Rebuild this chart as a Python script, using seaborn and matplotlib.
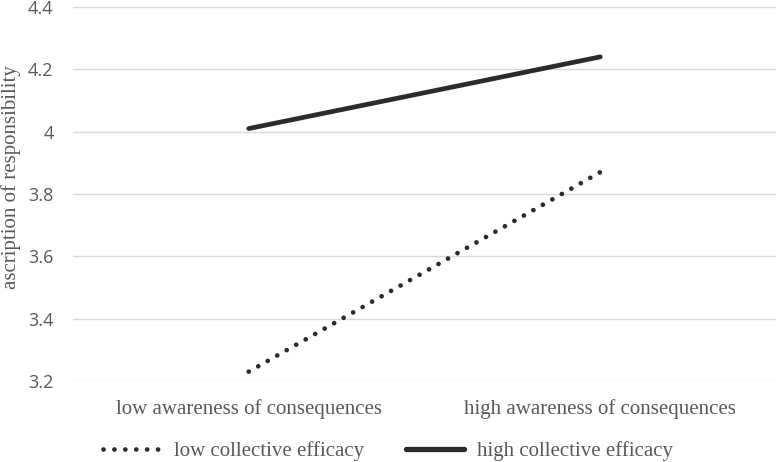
import matplotlib
matplotlib.use("Agg")
import matplotlib.pyplot as plt
import seaborn as sns
import pandas as pd
from matplotlib.lines import Line2D

categories = ["low awareness of consequences", "high awareness of consequences"]
series_names = ["low collective efficacy", "high collective efficacy"]
low_efficacy = [3.23, 3.87]
high_efficacy = [4.01, 4.24]
yticks = [3.2, 3.4, 3.6, 3.8, 4.0, 4.2, 4.4]
ytick_labels = ["3.2", "3.4", "3.6", "3.8", "4", "4.2", "4.4"]

df = pd.DataFrame({
    "x": categories * 2,
    "y": low_efficacy + high_efficacy,
    "series": [series_names[0]] * 2 + [series_names[1]] * 2,
})

sns.set_theme(style="white")
plt.rcParams['font.family'] = ['Liberation Serif', 'DejaVu Sans']

fig = plt.figure(figsize=(7.76, 4.62), dpi=100)
ax = fig.add_axes([73/776, 1 - 381/462, 1 - 73/776, (381 - 7)/462])

line_color = "#2b2b2b"
dot_dash = (0.01, 2.3)
sns.lineplot(data=df, x="x", y="y", hue="series", style="series",
             palette={series_names[0]: line_color, series_names[1]: line_color},
             dashes={series_names[0]: dot_dash, series_names[1]: ""},
             linewidth=3.4, ax=ax, legend=False, sort=False)

for ln in ax.lines:
    ln.set_dash_capstyle("round")
    ln.set_solid_capstyle("round")

ax.set_xlim(-0.5, 1.5)
ax.set_ylim(3.2, 4.4)
ax.set_yticks(yticks)
ax.set_yticklabels(ytick_labels, family="Open Sans", fontsize=13, color="#595959")
ax.set_xticks([0, 1])
ax.set_xticklabels(categories, fontsize=15, color="#595959")
ax.tick_params(axis="x", pad=13, length=0)
ax.tick_params(axis="y", pad=14, length=0)
ax.grid(axis="y", color="#d9d9d9", linewidth=1)
ax.set_axisbelow(True)
for s in ax.spines.values():
    s.set_visible(False)
ax.set_xlabel("")
ax.set_ylabel("ascription of responsibility", fontsize=15, color="#595959")
ax.yaxis.set_label_coords((21 - 73) / 703, (381 - 177) / 374)

h1 = Line2D([], [], color=line_color, linewidth=3.4, linestyle=(0, dot_dash), dash_capstyle="round")
h2 = Line2D([], [], color=line_color, linewidth=3.8, solid_capstyle="round")
leg = fig.legend([h1, h2], series_names, loc="center", bbox_to_anchor=(0.5, 1 - 451/462),
                 ncol=2, frameon=False, fontsize=15, handlelength=2.8, columnspacing=2.0,
                 handletextpad=0.6)
for t in leg.get_texts():
    t.set_color("#595959")

fig.savefig("out.png", dpi=100)
